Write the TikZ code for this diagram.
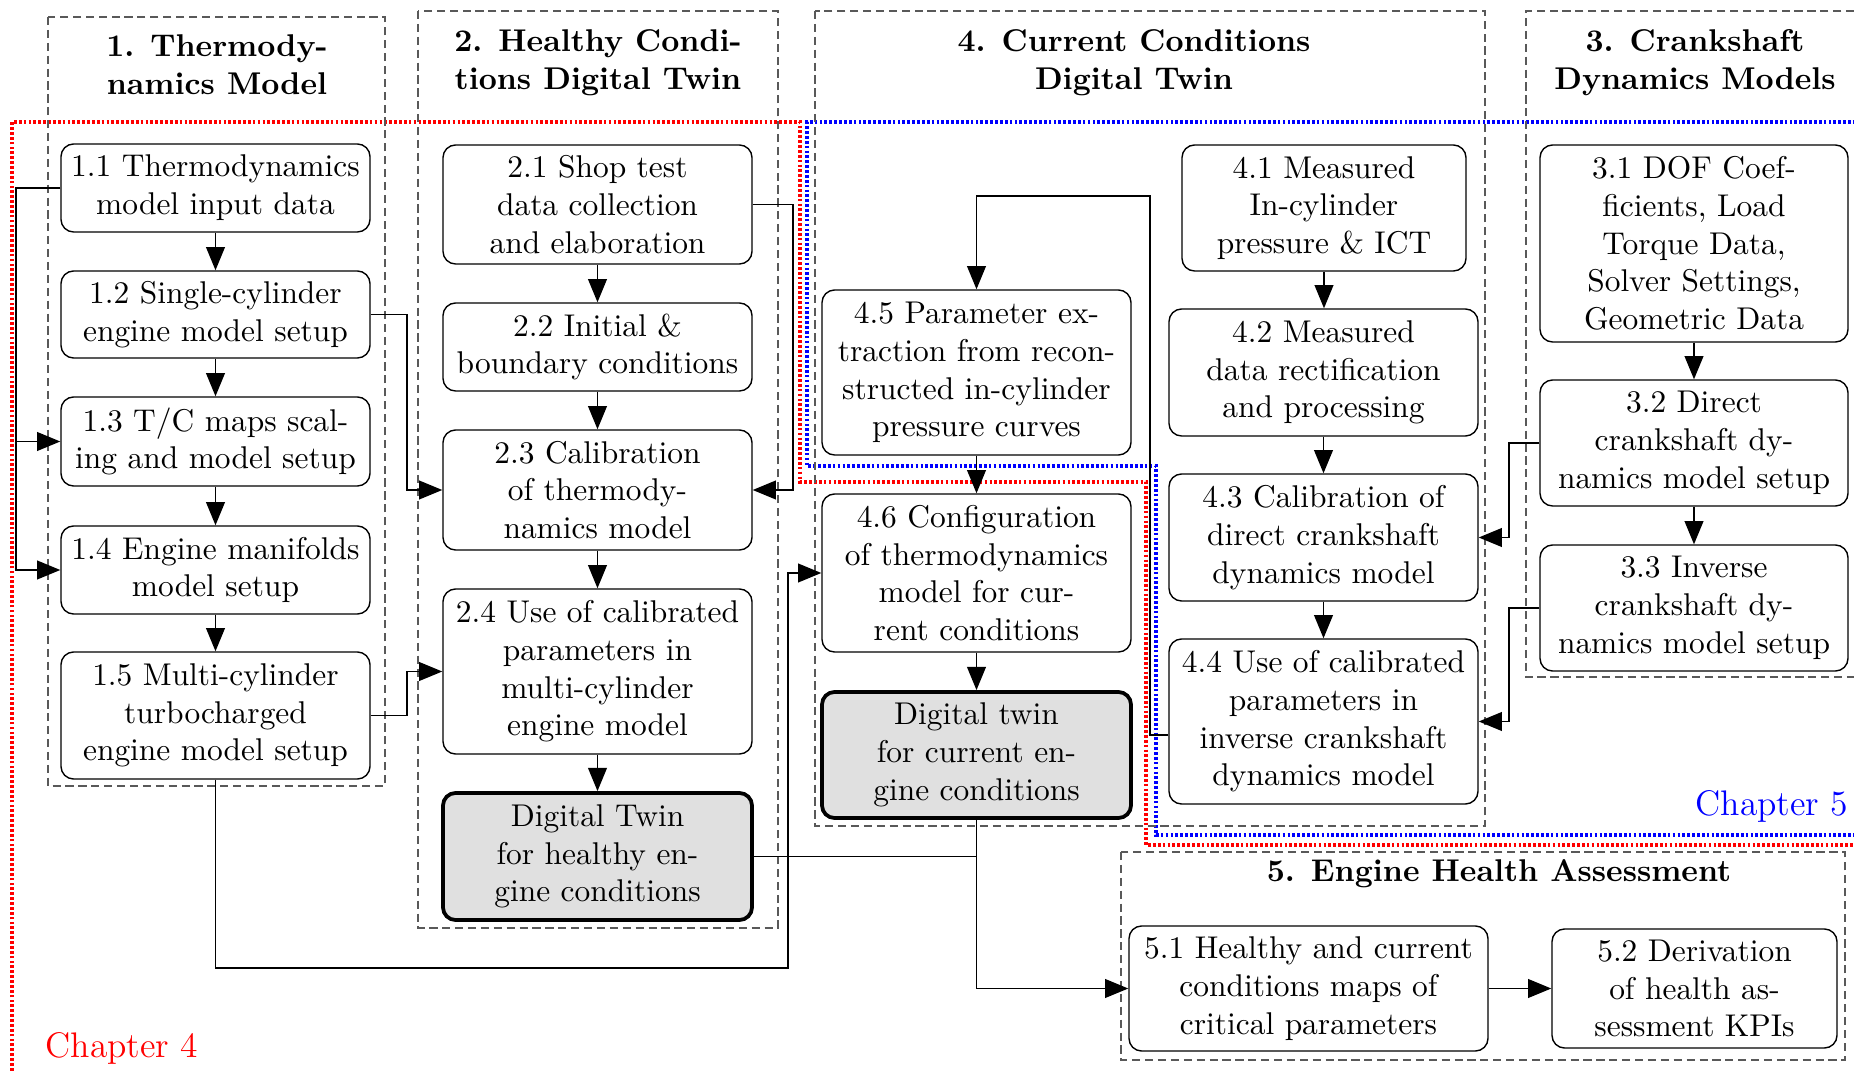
\documentclass[tikz,border=0pt]{standalone}
\usetikzlibrary{arrows.meta,calc}
\tikzset{
  stepbox/.style={draw, rounded corners=4pt, line width=0.45pt, align=center,
    inner sep=0pt, font=\fontsize{10}{12}\selectfont},
  twinbox/.style={stepbox, line width=1.2pt, fill=black!12},
  sz/.style 2 args={minimum width=#1*0.318pt, minimum height=#2*0.318pt},
  group/.style={draw=black!65, line width=0.45pt, dash pattern=on 2.6pt off 1.5pt},
  grouptitle/.style={align=center, inner sep=0pt, font=\fontsize{10}{12}\selectfont\bfseries},
  link/.style={line width=0.45pt},
  arr/.style={link, -{Triangle[length=7.4pt,width=6pt]}},
  chapline/.style={line width=1.15pt, dash pattern=on 0.85pt off 0.7pt},
  chaplabel/.style={inner sep=0pt, font=\fontsize{11.3}{13.5}\selectfont},
}
\begin{document}
\begin{tikzpicture}[x=0.318pt,y=-0.318pt]
\useasboundingbox (0,0) rectangle (1854,1073);

% chapter outlines and the open-ended group 3 frame
\begin{scope}
  \clip (0,0) rectangle (1854,1073);
  \draw[chapline, red] (12,1090) -- (12,122) -- (800,122) -- (800,482) -- (1146,482)
    -- (1146,845) -- (1880,845);
  \draw[chapline, blue] (1880,122) -- (807,122) -- (807,466) -- (1156,466)
    -- (1156,835) -- (1880,835);
  \draw[group] (1880,11) -- (1526,11) -- (1526,677) -- (1880,677);
\end{scope}

% group frames
\draw[group] (48,17) rectangle (385,786);
\draw[group] (418,11) rectangle (778,928);
\draw[group] (815,11) rectangle (1485,826);
\draw[group] (1121,852) rectangle (1845,1060);

% group titles
\node[grouptitle] (t1) at (217,65) {1. Thermody-\\namics Model};
\node[grouptitle] (t2) at (598,63) {2. Healthy Condi-\\tions Digital Twin};
\node[grouptitle] (t4) at (1134,63) {4. Current Conditions\\Digital Twin};
\node[grouptitle] (t3) at (1695,63) {3. Crankshaft\\Dynamics Models};
\node[grouptitle, anchor=base] (t5) at (1499,881) {5. Engine Health Assessment};

% chapter labels
\node[chaplabel, red, anchor=base west] (ch4) at (45,1057) {Chapter 4};
\node[chaplabel, blue, anchor=base east] (ch5) at (1849,815) {Chapter 5};

% 1. thermodynamics model
\node[stepbox, sz={309}{88}] (n11) at (215.5,188) {1.1 Thermodynamics\\model input data};
\node[stepbox, sz={309}{87}] (n12) at (215.5,314.5) {1.2 Single-cylinder\\engine model setup};
\node[stepbox, sz={309}{89}] (n13) at (215.5,441.5) {1.3 T/C maps scal-\\ing and model setup};
\node[stepbox, sz={309}{88}] (n14) at (215.5,570) {1.4 Engine manifolds\\model setup};
\node[stepbox, sz={309}{127}] (n15) at (215.5,715.5) {1.5 Multi-cylinder\\turbocharged\\engine model setup};

% 2. healthy conditions digital twin
\node[stepbox, sz={309}{119}] (n21) at (597.5,204.5) {2.1 Shop test\\data collection\\and elaboration};
\node[stepbox, sz={309}{88}] (n22) at (597.5,347) {2.2 Initial \&\\boundary conditions};
\node[stepbox, sz={309}{120}] (n23) at (597.5,490) {2.3 Calibration\\of thermody-\\namics model};
\node[stepbox, sz={309}{165}] (n24) at (597.5,671.5) {2.4 Use of calibrated\\parameters in\\multi-cylinder\\engine model};
\node[twinbox, sz={309}{127}] (dth) at (597.5,856.5) {Digital Twin\\for healthy en-\\gine conditions};

% 4. current conditions digital twin
\node[stepbox, sz={309}{165}] (n45) at (976.5,372.5) {4.5 Parameter ex-\\traction from recon-\\structed in-cylinder\\pressure curves};
\node[stepbox, sz={309}{158}] (n46) at (976.5,573) {4.6 Configuration\\of thermodynamics\\model for cur-\\rent conditions};
\node[twinbox, sz={309}{126}] (dtc) at (976.5,755) {Digital twin\\for current en-\\gine conditions};
\node[stepbox, sz={284}{126}] (n41) at (1324,208) {4.1 Measured\\In-cylinder\\pressure \& ICT};
\node[stepbox, sz={309}{127}] (n42) at (1323.5,372.5) {4.2 Measured\\data rectification\\and processing};
\node[stepbox, sz={309}{127}] (n43) at (1323.5,537.5) {4.3 Calibration of\\direct crankshaft\\dynamics model};
\node[stepbox, sz={309}{165}] (n44) at (1323.5,721.5) {4.4 Use of calibrated\\parameters in\\inverse crankshaft\\dynamics model};

% 3. crankshaft dynamics models
\node[stepbox, sz={308}{197}] (n31) at (1694,243.5) {3.1 DOF Coef-\\ficients, Load\\Torque Data,\\Solver Settings,\\Geometric Data};
\node[stepbox, sz={308}{126}] (n32) at (1694,443) {3.2 Direct\\crankshaft dy-\\namics model setup};
\node[stepbox, sz={308}{126}] (n33) at (1694,608) {3.3 Inverse\\crankshaft dy-\\namics model setup};

% 5. engine health assessment
\node[stepbox, sz={359}{125}] (n51) at (1308.5,988.5) {5.1 Healthy and current\\conditions maps of\\critical parameters};
\node[stepbox, sz={285}{119}] (n52) at (1694.5,988.5) {5.2 Derivation\\of health as-\\sessment KPIs};

% routing points
\coordinate (lbus) at (16,0);
\coordinate (mbus) at (407,0);
\coordinate (rbus) at (793,0);
\coordinate (low) at (788,968);
\coordinate (fback) at (1150,196);
\coordinate (cbus) at (1509,0);

% flow within the columns
\draw[arr] (n11.south) -- (n12.north);
\draw[arr] (n12.south) -- (n13.north);
\draw[arr] (n13.south) -- (n14.north);
\draw[arr] (n14.south) -- (n15.north);
\draw[arr] (n21.south) -- (n22.north);
\draw[arr] (n22.south) -- (n23.north);
\draw[arr] (n23.south) -- (n24.north);
\draw[arr] (n24.south) -- (dth.north);
\draw[arr] (n45.south) -- (n46.north);
\draw[arr] (n46.south) -- (dtc.north);
\draw[arr] (n41.south) -- (n41.south |- n42.north);
\draw[arr] (n42.south) -- (n43.north);
\draw[arr] (n43.south) -- (n44.north);
\draw[arr] (n31.south) -- (n32.north);
\draw[arr] (n32.south) -- (n33.north);
\draw[arr] (n51.east) -- (n52.west);

% cross links
\draw[arr] (n11.west) -- (n11.west -| lbus) |- (n13.west);
\draw[arr] (n11.west -| lbus) |- (n14.west);
\draw[arr] (n12.east) -- (n12.east -| mbus) |- (n23.west);
\draw[arr] (n15.east) -- (n15.east -| mbus) |- (n24.west);
\draw[arr] (n21.east) -- (n21.east -| rbus) |- (n23.east);
\draw[arr] (n15.south) |- (low) |- (n46.west);
\draw[link] (dth.east) -- (dth.east -| dtc.south);
\draw[arr] (dtc.south) |- (n51.west);
\draw[arr] ([yshift=-4.3pt]n44.west) -| (fback) -| (n45.north);
\draw[arr] (n32.west) -- (n32.west -| cbus) |- (n43.east);
\draw[arr] (n33.west) -- (n33.west -| cbus) |- (n44.east);
\end{tikzpicture}
\end{document}
